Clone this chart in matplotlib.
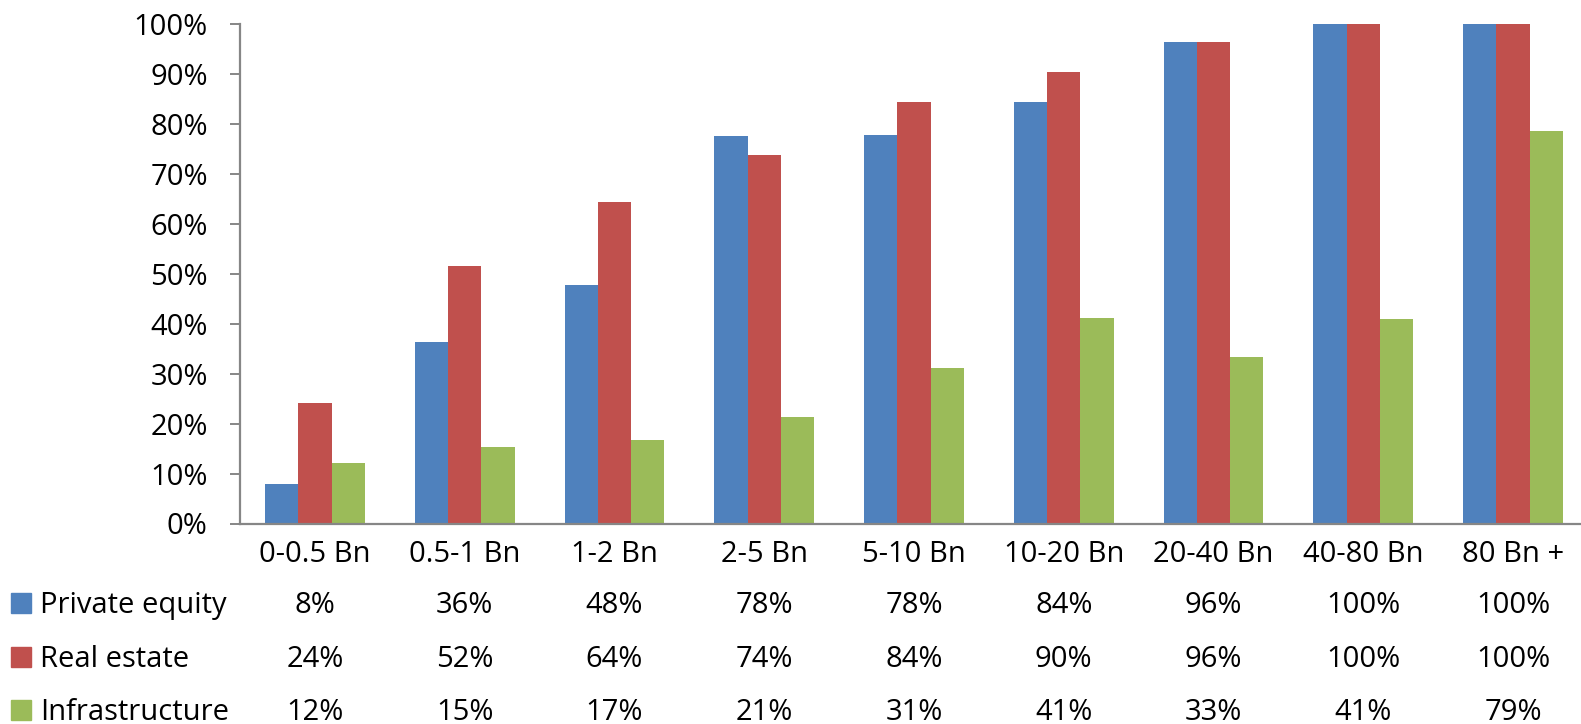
import numpy as np
import matplotlib
matplotlib.use('Agg')
import matplotlib.pyplot as plt
from matplotlib.transforms import blended_transform_factory

categories = ['0-0.5 Bn', '0.5-1 Bn', '1-2 Bn', '2-5 Bn', '5-10 Bn',
              '10-20 Bn', '20-40 Bn', '40-80 Bn', '80 Bn +']
series_names = ['Private equity', 'Real estate', 'Infrastructure']
private_equity = [8.0, 36.4, 47.7, 77.5, 77.8, 84.3, 96.3, 100, 100]
real_estate = [24.1, 51.6, 64.4, 73.8, 84.4, 90.3, 96.3, 100, 100]
infrastructure = [12.1, 15.3, 16.8, 21.3, 31.2, 41.2, 33.3, 40.9, 78.5]
pe_labels = ['8%', '36%', '48%', '78%', '78%', '84%', '96%', '100%', '100%']
re_labels = ['24%', '52%', '64%', '74%', '84%', '90%', '96%', '100%', '100%']
inf_labels = ['12%', '15%', '17%', '21%', '31%', '41%', '33%', '41%', '79%']
yticks = [0, 10, 20, 30, 40, 50, 60, 70, 80, 90, 100]

colors = ['#4F81BD', '#C0504D', '#9BBB59']

W, H = 1581, 724
plt.rcParams['font.family'] = ['Open Sans', 'DejaVu Sans']
fs = 21

fig = plt.figure(figsize=(W / 100, H / 100), dpi=100)
ax_left = 240 / W
ax_bottom = (H - 523.5) / H
ax_h = 499.5 / H
ax_w = 1348 / W
ax = fig.add_axes([ax_left, ax_bottom, ax_w, ax_h])

x = np.arange(len(categories))
bw = 1 / 4.5
all_series = [private_equity, real_estate, infrastructure]
for i, vals in enumerate(all_series):
    ax.bar(x + (i - 1) * bw, vals, width=bw, color=colors[i], edgecolor='none')

ax.set_xlim(-0.5, len(categories) - 0.5)
ax.set_ylim(0, 100)
ax.set_yticks(yticks)
ax.set_yticklabels([str(t) + '%' for t in yticks], fontsize=fs)
ax.set_xticks([])
for s in ['top', 'right']:
    ax.spines[s].set_visible(False)
for s in ['left', 'bottom']:
    ax.spines[s].set_color('#868686')
    ax.spines[s].set_linewidth(1.6)
ax.tick_params(axis='y', length=7.2, width=1.4, color='#868686', pad=16)

# data table underneath
tr = blended_transform_factory(ax.transData, fig.transFigure)
def fy(px):
    return 1 - px / H

for xi, c in zip(x, categories):
    ax.text(xi, fy(562), c, transform=tr, ha='center', va='baseline', fontsize=fs, clip_on=False)

row_base = [613, 667, 720]
row_labels = [pe_labels, re_labels, inf_labels]
for r in range(3):
    for xi, lab in zip(x, row_labels[r]):
        ax.text(xi, fy(row_base[r]), lab, transform=tr, ha='center', va='baseline',
                fontsize=fs, clip_on=False)
    fig.patches.append(plt.Rectangle((11 / W, fy(row_base[r])), 20 / W, 20 / H,
                                     transform=fig.transFigure, color=colors[r]))
    fig.text(40 / W, fy(row_base[r]), series_names[r], ha='left', va='baseline', fontsize=fs)

fig.savefig('out.png', dpi=100)
